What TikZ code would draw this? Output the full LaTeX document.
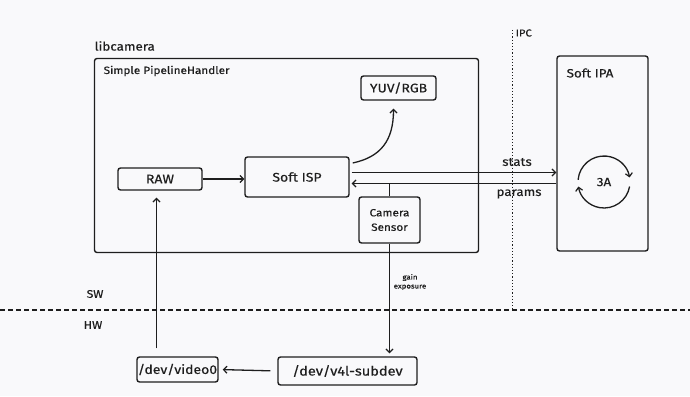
\documentclass[tikz,border=0pt]{standalone}
\usepackage{fontspec}
\setmainfont{Fira Sans}[FakeStretch=1.12, FakeBold=0.4]
\usetikzlibrary{arrows.meta,calc}
\definecolor{ink}{HTML}{1E1E1E}
\definecolor{bg}{HTML}{F9F9FB}
\begin{document}
\begin{tikzpicture}[x=1pt,y=-1pt,
  line width=1.3pt, draw=ink, text=ink,
  box/.style={draw=ink, line width=1.4pt, rounded corners=2.5pt, inner sep=0pt, font=\fontsize{12.5}{13}\selectfont},
  arr/.style={-{Straight Barb[length=3.5pt,width=7pt,line width=1.2pt]}},
  lbl/.style={inner sep=0pt, text=ink}
]
\fill[bg] (0,0) rectangle (690,396);
\useasboundingbox (0,0) rectangle (690,396);

% containers
\node[lbl, anchor=west, font=\fontsize{12}{13}\selectfont] (libc) at (94,46) {libcamera};
\draw[line width=1.4pt, rounded corners=2.5pt] (94.5,58.5) rectangle (478.5,252.5);
\node[lbl, anchor=west, font=\fontsize{10.5}{12}\selectfont] (sph) at (103,71) {Simple PipelineHandler};

\node[draw=ink, line width=1.4pt, rounded corners=2.5pt, minimum width=91pt, minimum height=195pt, inner sep=0pt] (ipa) at (602.5,153.5) {};
\node[lbl, anchor=west, font=\fontsize{12}{13}\selectfont] (ipal) at (566,73) {Soft IPA};

% boxes
\node[box, minimum width=84pt, minimum height=22pt] (raw) at (160,179) {RAW};
\node[box, minimum width=104pt, minimum height=40pt] (isp) at (297,177) {Soft ISP};
\node[box, minimum width=75pt, minimum height=24pt] (yuv) at (398.5,88) {YUV/RGB};
\node[box, minimum width=61pt, minimum height=46pt, align=center, font=\fontsize{10.5}{14.5}\selectfont] (cam) at (389.5,220) {Camera\\Sensor};
\node[box, minimum width=81pt, minimum height=25pt, font=\fontsize{12.5}{13}\selectfont] (vid) at (177.5,369.5) {/dev/video0};
\node[box, minimum width=139pt, minimum height=28pt, font=\fontsize{13}{14}\selectfont] (v4l) at (347.5,371) {/dev/v4l-subdev};

% SW / HW divider and IPC
\coordinate (dl) at (0,310);
\coordinate (dr) at (690,310);
\draw[dash pattern=on 5pt off 3pt, line width=1.2pt] (dl) -- (dr);
\node[lbl, font=\fontsize{11}{12}\selectfont] (sw) at (95,294) {SW};
\node[lbl, font=\fontsize{11}{12}\selectfont] (hw) at (93,325) {HW};
\coordinate (ipct) at (512.5,30);
\coordinate (ipcb) at (512.5,310);
\draw[dotted, line width=1.2pt] (ipct) -- (ipcb);
\node[lbl, anchor=west, font=\fontsize{10}{11}\selectfont] (ipc) at (515,33) {IPC};

% connectors
\draw[arr] (raw) -- (raw -| isp.west);
\coordinate (s1) at ([yshift=4.5pt]isp.east);
\coordinate (p1) at ([yshift=-6.5pt]isp.east);
\draw[arr] ([xshift=2pt]s1) -- (s1 -| ipa.west);
\draw[arr] (p1 -| ipa.west) -- ([xshift=2pt]p1);
\node[lbl, font=\fontsize{12}{13}\selectfont] (stats) at (517,162) {stats};
\node[lbl, font=\fontsize{12}{13}\selectfont] (params) at (519,194) {params};
\draw (cam.north) -- (cam.north |- p1);

\coordinate (c1) at ([xshift=3pt,yshift=14pt]isp.east);
\coordinate (c2) at ([xshift=-5pt,yshift=-8pt]yuv.south);
\draw[arr] (c1) .. controls +(28,-6) and +(0,32) .. (c2);

\draw[arr, shorten >=3pt] (cam.south) -- (cam.south |- v4l.north);
\node[lbl, font=\fontsize{7}{9}\selectfont, align=center] (gain) at (410,282) {gain\\exposure};

\coordinate (rb) at ([xshift=-3.5pt]raw.south);
\draw[arr, shorten <=8pt, shorten >=7pt] (rb |- vid.north) -- (rb);
\draw[arr, shorten <=7pt, shorten >=4pt] (v4l.west) -- (vid.east);

% 3A
\node[lbl, font=\fontsize{12}{13}\selectfont] (tA) at (604,182) {3A};
\draw[arr] ($(tA)+(185:26)$) arc[start angle=185, end angle=350, radius=26];
\draw[arr] ($(tA)+(10:26)$) arc[start angle=10, end angle=170, radius=26];
\end{tikzpicture}
\end{document}
